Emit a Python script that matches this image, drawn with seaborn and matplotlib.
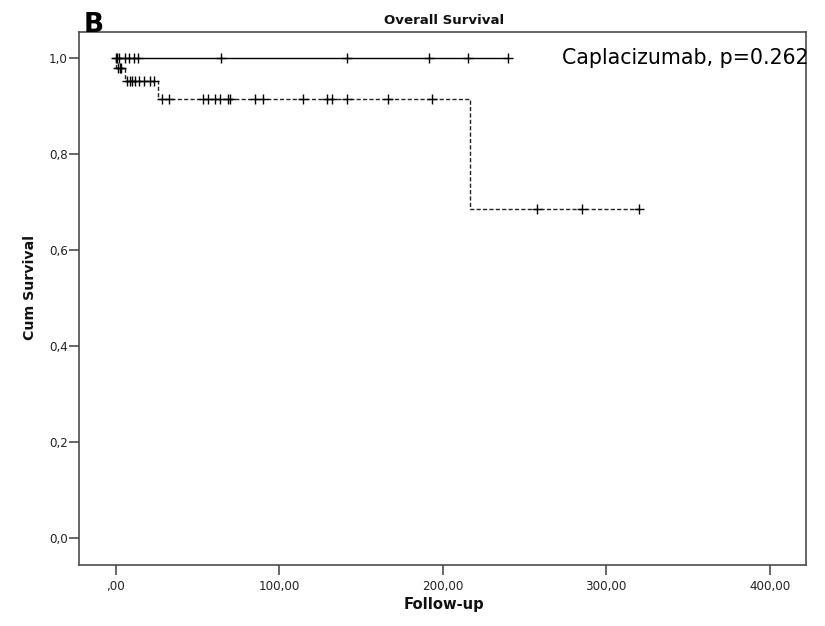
import numpy as np
import pandas as pd
import matplotlib
matplotlib.use("Agg")
import matplotlib.pyplot as plt
import seaborn as sns

# Kaplan-Meier step curves: time of each step and cumulative survival after it
capla_step_t = [0.0, 240.0]
capla_step_s = [1.0, 1.0]
capla_censored = [0.3, 1.0, 1.8, 5.5, 8.2, 11.0, 13.8, 64.2, 141.3, 191.6, 215.5, 240.0]

ctrl_step_t = [0.0, 0.5, 5.7, 26.0, 216.8, 320.0]
ctrl_step_s = [1.0, 0.979, 0.951, 0.914, 0.686, 0.686]
ctrl_censored = [1.5, 2.5, 3.5,
                 7.0, 8.5, 10.0, 12.0, 14.0, 17.5, 21.0, 23.5,
                 28.5, 32.5, 53.6, 56.6, 60.7, 63.8, 68.9, 69.9, 85.2, 90.3,
                 114.7, 129.1, 132.1, 141.3, 166.7, 193.3,
                 257.5, 285.0, 320.0]

x_ticks = [0, 100, 200, 300, 400]
x_tick_labels = [",00", "100,00", "200,00", "300,00", "400,00"]
y_ticks = [0.0, 0.2, 0.4, 0.6, 0.8, 1.0]
y_tick_labels = ["0,0", "0,2", "0,4", "0,6", "0,8", "1,0"]


def level_at(step_t, step_s, times):
    idx = np.searchsorted(step_t, times, side="right") - 1
    return np.asarray(step_s)[idx]


sns.set_theme(style="white")
plt.rcParams["font.family"] = ["DejaVu Sans"]

W, H = 825, 626
fig = plt.figure(figsize=(W / 100, H / 100), dpi=100)
ax = fig.add_axes([79 / W, 1 - 565 / H, (806 - 79) / W, (565 - 32) / H])

capla = pd.DataFrame({"t": capla_step_t, "s": capla_step_s})
sns.lineplot(data=capla, x="t", y="s", drawstyle="steps-post", estimator=None,
             sort=False, color="black", linewidth=1.0, ax=ax)
ctrl = pd.DataFrame({"t": ctrl_step_t, "s": ctrl_step_s})
sns.lineplot(data=ctrl, x="t", y="s", drawstyle="steps-post", estimator=None,
             sort=False, color="#222222", linewidth=1.0, linestyle=(0, (3, 1.6)), ax=ax)

# censoring marks
sns.scatterplot(x=capla_censored, y=level_at(capla_step_t, capla_step_s, capla_censored),
                marker="+", s=60, color="black", linewidth=1.0, ax=ax, zorder=3)
sns.scatterplot(x=ctrl_censored, y=level_at(ctrl_step_t, ctrl_step_s, ctrl_censored),
                marker="+", s=60, color="black", linewidth=1.0, ax=ax, zorder=3)

ax.set_xlim(-22.4, 422.2)
ax.set_ylim(-0.056, 1.054)
ax.set_xticks(x_ticks)
ax.set_xticklabels(x_tick_labels)
ax.set_yticks(y_ticks)
ax.set_yticklabels(y_tick_labels)
ax.set_xlabel("")
ax.set_ylabel("")

for sp in ax.spines.values():
    sp.set_color("#4d4d4d")
    sp.set_linewidth(1.2)
ax.tick_params(axis="both", colors="#4d4d4d", labelcolor="#222222",
               labelsize=8.6, length=7, width=1.2, direction="out")
ax.tick_params(axis="y", pad=1)
ax.tick_params(axis="x", pad=4)
ax.tick_params(left=True, bottom=True)

fig.text(444 / W, 1 - 24 / H, "Overall Survival", ha="center", va="baseline",
         fontsize=9.6, fontweight="bold", color="#111111")
fig.text(84 / W, 1 - 32 / H, "B", ha="left", va="baseline",
         fontsize=19, fontweight="bold", color="black")
fig.text(444 / W, 1 - 604 / H, "Follow-up", ha="center", va="center",
         fontsize=10.6, fontweight="bold", color="#111111")
fig.text(30 / W, 1 - 288 / H, "Cum Survival", ha="center", va="center",
         rotation=90, fontsize=10.2, fontweight="bold", color="#111111")
fig.text(808 / W, 1 - 64 / H, "Caplacizumab, p=0.262", ha="right", va="baseline",
         fontsize=14.8, color="black")

fig.savefig("out.png", dpi=100)
